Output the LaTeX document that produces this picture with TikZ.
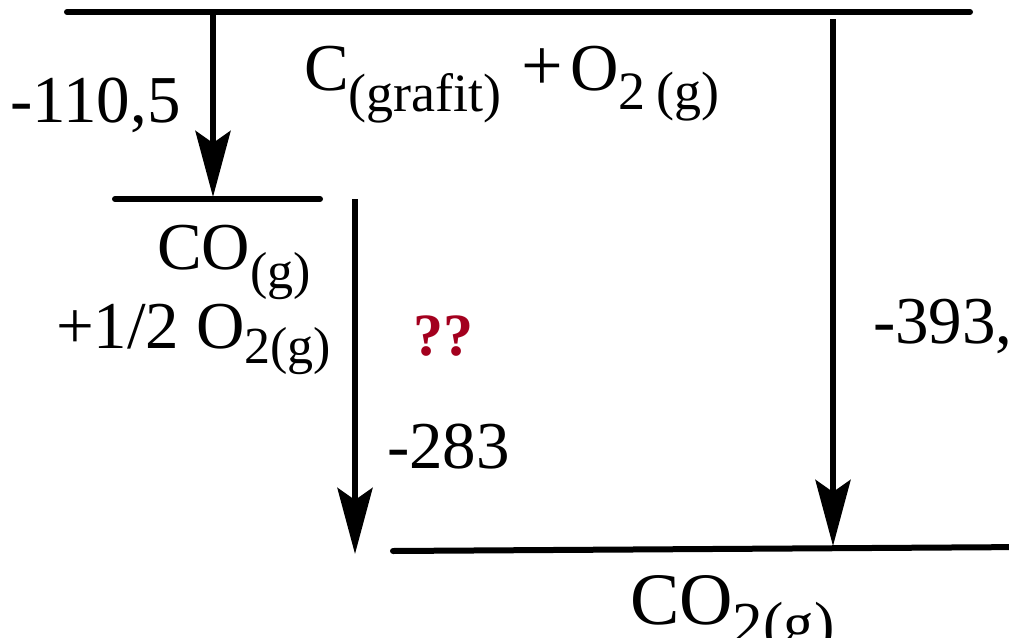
\documentclass[tikz,border=0pt]{standalone}
\usepackage{fontspec}
\setmainfont{Liberation Serif}
\newfontfamily\tnr{Liberation Serif}
\usetikzlibrary{arrows.meta}
\definecolor{qred}{HTML}{A3001E}
\newcommand\bigtxt{\tnr\fontsize{67}{70}\selectfont}
\newcommand\sbs[3]{\raisebox{-#1pt}{\tnr\fontsize{#2}{#2}\selectfont #3}}
\tikzset{
  level/.style={line width=6pt, line cap=round},
  down/.style={line width=6pt, -{Stealth[length=66pt, width=35pt, inset=12pt]}},
  lbl/.style={inner sep=0pt, outer sep=0pt, anchor=base west, font=\bigtxt},
}
\begin{document}
\begin{tikzpicture}[x=1pt, y=-1pt]
\useasboundingbox (0,0) rectangle (1009,637);
\clip (0,0) rectangle (1009,637);
% levels
\coordinate (L1a) at (67,12);
\coordinate (L1b) at (970,12);
\coordinate (L2a) at (115,199);
\coordinate (L2b) at (320,199);
\coordinate (L3a) at (393,551);
\coordinate (L3b) at (1030,547);
\draw[level] (L1a) -- (L1b);
\draw[level] (L2a) -- (L2b);
\draw[level] (L3a) -- (L3b);
% arrows
\coordinate (A1s) at (213,15);
\coordinate (A1e) at (213,197);
\coordinate (A2s) at (355,199);
\coordinate (A2e) at (355,554);
\coordinate (A3s) at (833,19);
\coordinate (A3e) at (833,546);
\draw[down] (A1s) -- (A1e);
\draw[down] (A2s) -- (A2e);
\draw[down] (A3s) -- (A3e);
% labels
\node[lbl] (top) at (304,90) {C\sbs{21}{54}{(grafit)}\hspace{20pt}{\fontsize{74}{74}\selectfont+}\hspace{7pt}O\sbs{19}{54}{2\hspace{11pt}(g)}};
\node[lbl] (co) at (157,269) {CO\sbs{19}{52}{(g)}};
\node[lbl] (oh) at (56,348) {+1/2 O\sbs{15}{52}{2(g)}};
\node[lbl, font=\tnr\fontsize{74}{78}\selectfont] (co2) at (630,624) {CO\sbs{20}{61}{2(g)}};
\node[lbl] (e1) at (10,122) {-110,5};
\node[lbl] (e2) at (387,468) {-283};
\node[lbl] (e3) at (873,343) {-393,5};
\node[lbl, font=\tnr\fontsize{60}{64}\selectfont\bfseries, text=qred] (q) at (413,355) {??};
\end{tikzpicture}
\end{document}
